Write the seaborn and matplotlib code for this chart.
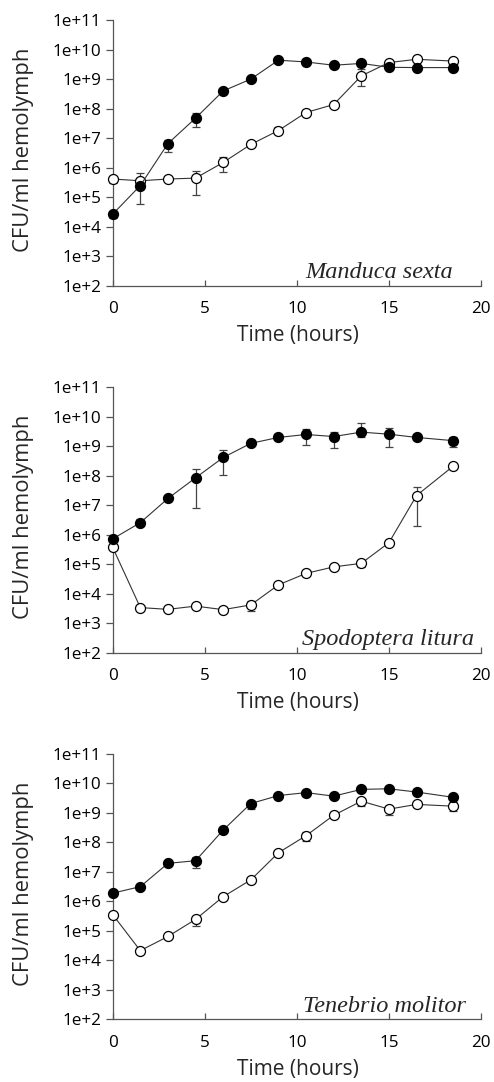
import numpy as np
import pandas as pd
import matplotlib
matplotlib.use("Agg")
import matplotlib.pyplot as plt
import seaborn as sns

# ---- data (log10 CFU/ml) ----
time = [0, 1.5, 3, 4.5, 6, 7.5, 9, 10.5, 12, 13.5, 15, 16.5, 18.5]
species = ["Manduca sexta", "Spodoptera litura", "Tenebrio molitor"]

filled_log = [
    [4.43, 5.40, 6.82, 7.68, 8.60, 9.00, 9.64, 9.58, 9.47, 9.53, 9.40, 9.39, 9.39],
    [5.86, 6.41, 7.23, 7.93, 8.62, 9.10, 9.30, 9.40, 9.33, 9.48, 9.41, 9.30, 9.19],
    [6.28, 6.50, 7.29, 7.38, 8.42, 9.32, 9.59, 9.69, 9.57, 9.80, 9.82, 9.71, 9.53],
]
open_log = [
    [5.62, 5.56, 5.62, 5.65, 6.18, 6.79, 7.26, 7.87, 8.14, 9.11, 9.56, 9.67, 9.61],
    [5.57, 3.53, 3.47, 3.58, 3.46, 3.62, 4.30, 4.69, 4.91, 5.03, 5.73, 7.33, 8.33],
    [5.55, 4.33, 4.81, 5.39, 6.16, 6.73, 7.65, 8.23, 8.92, 9.40, 9.13, 9.29, 9.23],
]
# error bar bounds (log10); nan = no visible bar
nan = np.nan
filled_lo = [
    [4.30, 4.79, 6.54, 7.39, 8.52, nan, 9.58, nan, nan, 9.46, nan, nan, nan],
    [nan, 6.30, 7.17, 6.92, 8.02, nan, 9.24, 9.04, 8.95, 9.33, 8.97, nan, 8.97],
    [nan, 6.45, 7.22, 7.12, nan, 9.15, nan, nan, nan, nan, nan, nan, nan],
]
filled_hi = [
    [4.50, 5.50, 6.95, 7.84, 8.68, nan, 9.70, nan, nan, 9.60, nan, nan, nan],
    [nan, 6.52, 7.30, 8.22, 8.86, nan, 9.42, 9.58, 9.50, 9.79, 9.61, nan, 9.33],
    [6.69, 6.58, 7.33, 7.51, 8.84, 9.39, nan, nan, nan, nan, nan, nan, nan],
]
open_lo = [
    [5.50, 5.40, nan, 5.08, 5.86, nan, 7.14, nan, nan, 8.76, nan, nan, nan],
    [nan, nan, nan, nan, nan, 3.41, nan, nan, nan, 4.91, nan, 6.28, 8.25],
    [nan, nan, nan, 5.18, nan, nan, nan, 8.06, nan, 9.23, 8.93, nan, 9.06],
]
open_hi = [
    [5.70, 5.83, nan, 5.90, 6.35, nan, 7.39, nan, nan, 9.33, nan, nan, nan],
    [nan, nan, nan, nan, nan, 3.76, nan, nan, nan, 5.11, nan, 7.61, 8.40],
    [nan, nan, nan, 5.50, nan, nan, nan, 8.34, nan, 9.49, 9.24, nan, 9.36],
]
ytick_exp = [2, 3, 4, 5, 6, 7, 8, 9, 10, 11]
xticks = [0, 5, 10, 15, 20]

sns.set_theme(style="ticks")
plt.rcParams['font.family'] = ['Open Sans', 'DejaVu Sans']

W, H = 494, 1082
fig = plt.figure(figsize=(W / 100, H / 100), dpi=100)

panel_px = [(20, 286), (387.3, 652.7), (754, 1019.3)]
label_pos = [(0.924, 0.030), (0.981, 0.030), (0.959, 0.028)]
left_px, right_px = 112.7, 481

axis_col = "#555555"
line_col = "#333333"

for i in range(3):
    top, bot = panel_px[i]
    hpx = bot - top
    wpx = right_px - left_px
    ax = fig.add_axes([left_px / W, 1 - bot / H, wpx / W, hpx / H])
    df = pd.DataFrame({
        "time": time * 2,
        "cfu": [10 ** v for v in filled_log[i]] + [10 ** v for v in open_log[i]],
        "group": ["filled"] * len(time) + ["open"] * len(time),
    })
    for g, fc, z in [("open", "white", 3), ("filled", "black", 4)]:
        sub = df[df.group == g]
        lo = np.array(filled_lo[i] if g == "filled" else open_lo[i])
        hi = np.array(filled_hi[i] if g == "filled" else open_hi[i])
        y = sub["cfu"].to_numpy()
        t = sub["time"].to_numpy()
        m = ~np.isnan(lo)
        ax.errorbar(t[m], y[m], yerr=[y[m] - 10 ** lo[m], 10 ** hi[m] - y[m]],
                    fmt="none", ecolor="#444444", elinewidth=0.9, capsize=3,
                    capthick=0.9, zorder=z - 1, clip_on=False)
        sns.lineplot(data=sub, x="time", y="cfu", ax=ax, color=line_col,
                     linewidth=0.8, marker="o", markersize=7.2,
                     markerfacecolor=fc, markeredgecolor="black",
                     markeredgewidth=0.9, zorder=z, clip_on=False,
                     estimator=None, legend=False)
    ax.set_yscale("log")
    ax.set_ylim(1e2, 1e11)
    ax.set_xlim(0, 20)
    ax.set_yticks([10.0 ** e for e in ytick_exp])
    ax.set_yticklabels([f"1e+{e}" for e in ytick_exp])
    ax.yaxis.set_minor_locator(matplotlib.ticker.NullLocator())
    ax.set_xticks(xticks)
    ax.set_xticklabels([str(v) for v in xticks])
    ax.tick_params(axis="y", direction="out", length=5, width=0.9, color=axis_col,
                   labelsize=12.3, pad=3, labelcolor="black")
    ax.tick_params(axis="x", direction="in", length=4, width=0.9, color=axis_col,
                   labelsize=12.3, pad=11, labelcolor="black")
    for s in ["top", "right"]:
        ax.spines[s].set_visible(False)
    for s in ["left", "bottom"]:
        ax.spines[s].set_color(axis_col)
        ax.spines[s].set_linewidth(0.9)
    ax.set_xlabel("Time (hours)", fontsize=15, va="center")
    ax.xaxis.set_label_coords(0.502, -50 / hpx)
    ax.set_ylabel("CFU/ml hemolymph", fontsize=15.8, va="center")
    ax.yaxis.set_label_coords((23 - left_px) / wpx, 0.511)
    ax.text(label_pos[i][0], label_pos[i][1], species[i], transform=ax.transAxes,
            ha="right", va="baseline", fontsize=17.5, style="italic",
            family=["Liberation Serif"])

fig.savefig("out.png", dpi=100)
